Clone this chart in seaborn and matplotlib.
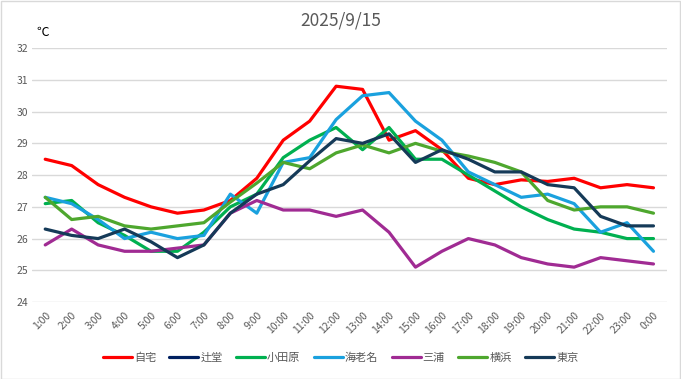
import numpy as np
import pandas as pd
import matplotlib
matplotlib.use("Agg")
import matplotlib.pyplot as plt
import seaborn as sns
from matplotlib.lines import Line2D

hours = ["1:00", "2:00", "3:00", "4:00", "5:00", "6:00", "7:00", "8:00", "9:00", "10:00",
         "11:00", "12:00", "13:00", "14:00", "15:00", "16:00", "17:00", "18:00", "19:00",
         "20:00", "21:00", "22:00", "23:00", "0:00"]

jitaku = [28.5, 28.3, 27.7, 27.3, 27.0, 26.8, 26.9, 27.2, 27.9, 29.1, 29.7, 30.8,
          30.7, 29.1, 29.4, 28.8, 27.9, 27.7, 27.85, 27.8, 27.9, 27.6, 27.7, 27.6]
tsujido = [np.nan] * 24
odawara = [27.1, 27.2, 26.5, 26.1, 25.6, 25.6, 26.2, 27.0, 27.4, 28.55, 29.1, 29.5,
           28.8, 29.5, 28.5, 28.5, 28.0, 27.5, 27.0, 26.6, 26.3, 26.2, 26.0, 26.0]
ebina = [27.3, 27.1, 26.6, 26.0, 26.2, 26.0, 26.1, 27.4, 26.8, 28.4, 28.55, 29.75,
         30.5, 30.6, 29.7, 29.1, 28.1, 27.7, 27.3, 27.4, 27.1, 26.2, 26.5, 25.6]
miura = [25.8, 26.3, 25.8, 25.6, 25.6, 25.7, 25.8, 26.8, 27.2, 26.9, 26.9, 26.7,
         26.9, 26.2, 25.1, 25.6, 26.0, 25.8, 25.4, 25.2, 25.1, 25.4, 25.3, 25.2]
yokohama = [27.3, 26.6, 26.7, 26.4, 26.3, 26.4, 26.5, 27.15, 27.75, 28.4, 28.2, 28.7,
            28.95, 28.7, 29.0, 28.75, 28.6, 28.4, 28.1, 27.2, 26.9, 27.0, 27.0, 26.8]
tokyo = [26.3, 26.1, 26.0, 26.3, 25.9, 25.4, 25.8, 26.8, 27.4, 27.7, 28.45, 29.15,
         29.0, 29.3, 28.4, 28.8, 28.5, 28.1, 28.1, 27.7, 27.6, 26.7, 26.4, 26.4]

stations = ["自宅", "辻堂", "小田原", "海老名", "三浦", "横浜", "東京"]
colors = ["#FF0000", "#002060", "#00B050", "#1AA1DE", "#A02B93", "#4EA72E", "#153A58"]
series = [jitaku, tsujido, odawara, ebina, miura, yokohama, tokyo]

rows = []
for name, vals in zip(stations, series):
    for i, v in enumerate(vals):
        rows.append({"idx": i, "hour": hours[i], "station": name, "temp": v})
df = pd.DataFrame(rows)

sns.set_theme(style="white")
plt.rcParams["font.family"] = ["Noto Sans CJK JP", "DejaVu Sans"]

fig = plt.figure(figsize=(6.81, 3.79), dpi=100)
ax = fig.add_axes([0.047, 0.203, 0.932, 0.670])

palette = dict(zip(stations, colors))
drawn = df.dropna(subset=["temp"])
sns.lineplot(data=drawn, x="idx", y="temp", hue="station", hue_order=stations,
             palette=palette, linewidth=2.3, ax=ax, legend=False, sort=False,
             estimator=None)

ax.set_xlim(-0.5, 23.5)
ax.set_ylim(24, 32)
ax.set_yticks(range(24, 33))
ax.set_yticklabels([str(t) for t in range(24, 33)], fontsize=7.5, color="#595959")
ax.set_xticks(range(24))
ax.set_xticklabels(hours, rotation=45, ha="right", rotation_mode="anchor",
                   fontsize=7.5, color="#595959")
ax.tick_params(axis="both", length=0, pad=3)
ax.tick_params(axis="x", pad=6)
ax.grid(axis="y", color="#D9D9D9", linewidth=1)
ax.set_axisbelow(True)
for s in ax.spines.values():
    s.set_visible(False)
ax.set_xlabel("")
ax.set_ylabel("")

fig.text(0.5, 0.945, "2025/9/15", ha="center", va="center", fontsize=12.5, color="#595959")
fig.text(0.053, 0.915, "℃", ha="left", va="center", fontsize=9, color="#000000")

handles = [Line2D([0], [0], color=c, linewidth=2.3) for c in colors]
leg = fig.legend(handles, stations, loc="center", bbox_to_anchor=(0.5, 0.057), ncol=7,
                 frameon=False, fontsize=8, handlelength=2.6, handletextpad=0.2,
                 columnspacing=1.2)
for t in leg.get_texts():
    t.set_color("#595959")

fig.patches.append(plt.Rectangle((0.001, 0.001), 0.997, 0.996, transform=fig.transFigure,
                                 fill=False, edgecolor="#D9D9D9", linewidth=1))

fig.savefig("out.png", dpi=100)
